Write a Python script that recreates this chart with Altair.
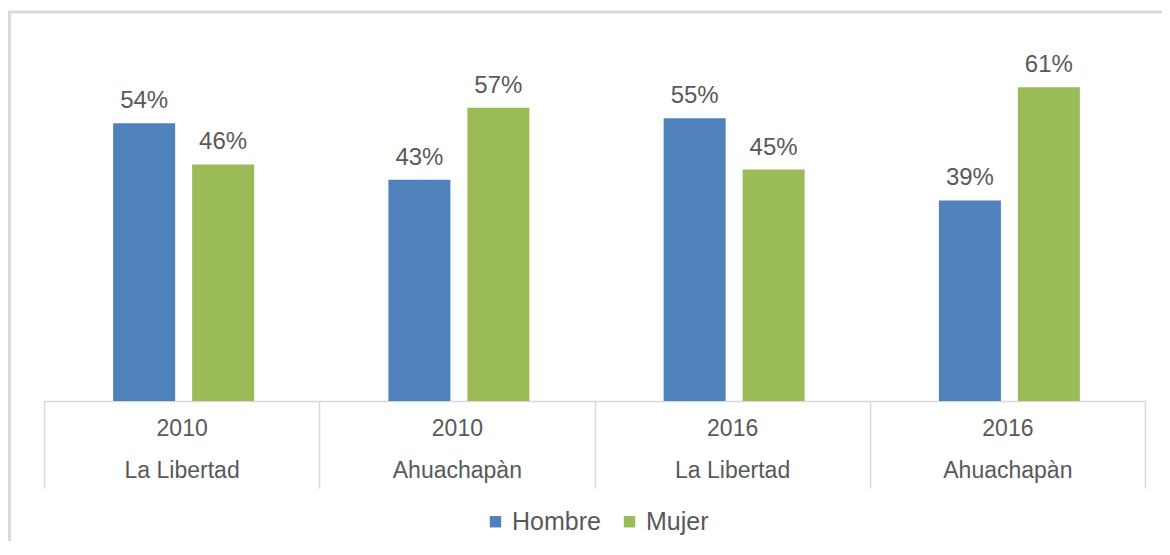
import altair as alt
import pandas as pd

groups = ["2010|La Libertad", "2010|Ahuachapàn", "2016|La Libertad", "2016|Ahuachapàn"]
series = ["Hombre", "Mujer"]
hombre = [54, 43, 55, 39]
mujer = [46, 57, 45, 61]
colors = ["#4F81BD", "#9BBB59"]

rows = []
for g, h, m in zip(groups, hombre, mujer):
    rows.append({"grupo": g, "sexo": "Hombre", "valor": h})
    rows.append({"grupo": g, "sexo": "Mujer", "valor": m})
df = pd.DataFrame(rows)
df["etiqueta"] = df["valor"].astype(str) + "%"

FONT = "Liberation Sans"
TXT = "#595959"
GRID = "#D9D9D9"

x = alt.X("grupo:N", sort=groups, title=None,
          scale=alt.Scale(paddingInner=0, paddingOuter=0),
          axis=alt.Axis(labelExpr="split(datum.label, '|')", labelAngle=0,
                        tickBand="extent", tickSize=87, tickColor=GRID, tickWidth=1.5,
                        domainColor=GRID, domainWidth=1.5,
                        labelPadding=-71, labelLineHeight=42,
                        labelFont=FONT, labelFontSize=23, labelColor=TXT))
xo = alt.XOffset("sexo:N", sort=series,
                 scale=alt.Scale(paddingInner=0.215, paddingOuter=0.85, align=0.515))
y = alt.Y("valor:Q", scale=alt.Scale(domain=[0, 70]), axis=None)

base = alt.Chart(df)

bars = base.mark_bar().encode(
    x=x, xOffset=xo, y=y,
    color=alt.Color("sexo:N", sort=series,
                    scale=alt.Scale(domain=series, range=colors),
                    legend=alt.Legend(title=None, orient="none", direction="horizontal",
                                      legendX=439, legendY=468,
                                      symbolType="square", symbolSize=130,
                                      symbolStrokeWidth=0, columnPadding=16,
                                      labelFont=FONT, labelFontSize=25, labelColor=TXT)),
)

labels = base.mark_text(font=FONT, fontSize=24, color=TXT, baseline="alphabetic", dy=-15).encode(
    x=x, xOffset=xo, y=y, text="etiqueta:N"
)

border = alt.Chart(alt.Data(values=[{"a": 1}])).mark_rect(
    filled=False, stroke=GRID, strokeWidth=3
).encode(x=alt.value(-34.5), x2=alt.value(1300), y=alt.value(-29), y2=alt.value(700))

chart = alt.layer(border, bars, labels).properties(
    width=1101, height=360,
    autosize=alt.AutoSizeParams(type="none"),
    padding={"left": 36, "top": 33, "right": 17, "bottom": 140},
).configure_view(stroke=None)

chart.save("out.html", embed_options={"renderer": "svg", "actions": False})
